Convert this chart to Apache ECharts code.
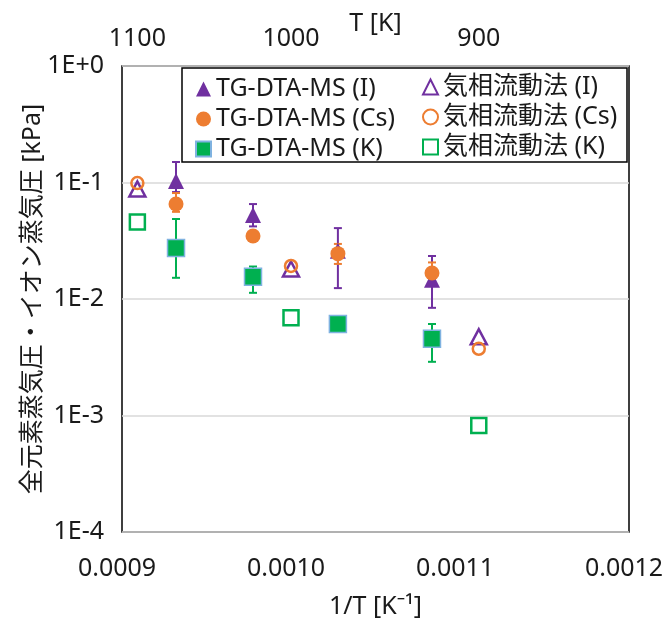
<!DOCTYPE html>
<html>
<head>
<meta charset="utf-8">
<script src="https://cdn.jsdelivr.net/npm/echarts@6/dist/echarts.min.js"></script>
<style>
  html, body { margin: 0; padding: 0; background: #fff; }
  #chart { width: 663px; height: 624px; }
</style>
</head>
<body>
<div id="chart"></div>
<script>
// TG-DTA-MS measurement temperatures [K]
const tgTemps = [1073, 1023, 973, 923]
const tgI = [0.103, 0.0526, 0.026, 0.0146]
const tgILow = [0.0828, 0.042, 0.0124, 0.0084]
const tgIHigh = [0.150, 0.0653, 0.0406, 0.0234]
const tgCs = [0.0653, 0.0347, 0.0245, 0.0167]
const tgCsLow = [0.056, 0.032, 0.020, 0.0132]
const tgCsHigh = [0.0812, 0.037, 0.0297, 0.0206]
const tgK = [0.0274, 0.0155, 0.0061, 0.00455]
const tgKLow = [0.0152, 0.0113, 0.0055, 0.00289]
const tgKHigh = [0.0486, 0.019, 0.0066, 0.0061]

// gas flow method (気相流動法)
const gasTemps = [1100, 1000, 900]
const gasI = [0.0879, 0.0181, 0.00474]
const gasCs = [0.0988, 0.0192, 0.00374]
const gasK = [0.0458, 0.0069, 0.00082]

// top axis T [K] ticks
const topTickTemps = [1100, 1000, 900]

const purple = '#7030A0'
const orange = '#ED7D31'
const green = '#00B050'
const ink = '#1a1a1a'
const font = '"Noto Sans", "Noto Sans CJK JP", sans-serif'
const fs = 25

const inv = t => 1 / t
const pts = (temps, vals) => temps.map((t, i) => [inv(t), vals[i]])
const errs = (temps, lo, hi) => temps.map((t, i) => [inv(t), lo[i], hi[i]])

function errorBar (color, data) {
  return {
    type: 'custom',
    xAxisIndex: 0,
    yAxisIndex: 0,
    z: 2,
    silent: true,
    encode: { x: 0, y: [1, 2] },
    data,
    renderItem (params, api) {
      const x = api.value(0)
      const pLo = api.coord([x, api.value(1)])
      const pHi = api.coord([x, api.value(2)])
      const hw = 4
      const style = { stroke: color, lineWidth: 2 }
      return {
        type: 'group',
        children: [
          { type: 'line', shape: { x1: pLo[0], y1: pLo[1], x2: pHi[0], y2: pHi[1] }, style },
          { type: 'line', shape: { x1: pLo[0] - hw, y1: pLo[1], x2: pLo[0] + hw, y2: pLo[1] }, style },
          { type: 'line', shape: { x1: pHi[0] - hw, y1: pHi[1], x2: pHi[0] + hw, y2: pHi[1] }, style }
        ]
      }
    }
  }
}

const legendText = { fontSize: fs, color: ink, fontFamily: font, lineHeight: 28 }

const chart = echarts.init(document.getElementById('chart'))
chart.setOption({
  animation: false,
  backgroundColor: '#fff',
  textStyle: { fontFamily: font },
  grid: {
    left: 122, right: 34, top: 66, bottom: 92,
    outerBoundsMode: 'none',
    containLabel: false,
    show: true, borderColor: '#000', borderWidth: 1.5
  },
  xAxis: [
    {
      type: 'value',
      position: 'bottom',
      min: 0.0009,
      max: 0.0012,
      interval: 0.0001,
      name: '1/T [K⁻¹]',
      nameLocation: 'middle',
      nameGap: 62,
      nameMoveOverlap: false,
      nameTextStyle: { fontSize: fs, color: ink, fontFamily: font },
      axisLine: { show: false },
      axisTick: { show: false },
      splitLine: { show: false },
      axisLabel: {
        fontSize: fs, color: ink, margin: 24, fontFamily: font,
        padding: [0, 10, 0, 0],
        formatter: v => v.toFixed(4)
      }
    },
    {
      type: 'value',
      position: 'top',
      min: 0.0009,
      max: 0.0012,
      name: 'T [K]',
      nameLocation: 'middle',
      nameGap: 30,
      nameMoveOverlap: false,
      nameTextStyle: { fontSize: fs, color: ink, fontFamily: font },
      axisLine: { show: false },
      axisTick: { show: false },
      splitLine: { show: false },
      axisLabel: {
        fontSize: fs, color: ink, margin: 15, fontFamily: font,
        customValues: topTickTemps.map(inv),
        formatter: v => String(Math.round(1 / v))
      }
    }
  ],
  yAxis: {
    type: 'log',
    logBase: 10,
    min: 1e-4,
    max: 1,
    name: '全元素蒸気圧・イオン蒸気圧 [kPa]',
    nameLocation: 'middle',
    nameGap: 77,
    nameMoveOverlap: false,
    nameTextStyle: { fontSize: fs, color: ink, fontFamily: font },
    axisLine: { show: false },
    axisTick: { show: false },
    splitLine: { show: true, lineStyle: { color: '#D9D9D9', width: 1.5 } },
    axisLabel: {
      fontSize: fs, color: ink, margin: 18, fontFamily: font,
      formatter: v => {
        const e = Math.round(Math.log10(v))
        return '1E' + (e >= 0 ? '+' : '') + e
      }
    }
  },
  legend: [
    {
      orient: 'vertical',
      left: 190,
      top: 70,
      itemGap: 2,
      itemWidth: 15,
      itemHeight: 15,
      textStyle: legendText,
      data: ['TG-DTA-MS (I)', 'TG-DTA-MS (Cs)', 'TG-DTA-MS (K)']
    },
    {
      orient: 'vertical',
      left: 417,
      top: 68,
      itemGap: 2,
      itemWidth: 15,
      itemHeight: 15,
      textStyle: legendText,
      data: ['気相流動法 (I)', '気相流動法 (Cs)', '気相流動法 (K)']
    }
  ],
  graphic: [
    {
      type: 'rect',
      z: 100,
      shape: { x: 182, y: 68, width: 445, height: 94 },
      style: { fill: 'none', stroke: '#000', lineWidth: 1.5 }
    }
  ],
  series: [
    errorBar(purple, errs(tgTemps, tgILow, tgIHigh)),
    errorBar(orange, errs(tgTemps, tgCsLow, tgCsHigh)),
    errorBar(green, errs(tgTemps, tgKLow, tgKHigh)),
    {
      name: 'TG-DTA-MS (I)',
      type: 'scatter',
      z: 3,
      symbol: 'triangle',
      symbolSize: [16, 16],
      itemStyle: { color: purple, opacity: 1 },
      data: pts(tgTemps, tgI)
    },
    {
      name: 'TG-DTA-MS (Cs)',
      type: 'scatter',
      z: 3,
      symbol: 'circle',
      symbolSize: 15,
      itemStyle: { color: orange, opacity: 1 },
      data: pts(tgTemps, tgCs)
    },
    {
      name: 'TG-DTA-MS (K)',
      type: 'scatter',
      z: 3,
      symbol: 'rect',
      symbolSize: 17,
      itemStyle: { color: green, borderColor: '#7FB2E0', borderWidth: 1.5, opacity: 1 },
      data: pts(tgTemps, tgK)
    },
    {
      name: '気相流動法 (I)',
      type: 'scatter',
      z: 3,
      symbol: 'triangle',
      symbolSize: [16, 15],
      itemStyle: { color: 'rgba(255,255,255,0)', borderColor: purple, borderWidth: 2.5, opacity: 1 },
      data: pts(gasTemps, gasI)
    },
    {
      name: '気相流動法 (Cs)',
      type: 'scatter',
      z: 3,
      symbol: 'circle',
      symbolSize: 12,
      itemStyle: { color: 'rgba(255,255,255,0)', borderColor: orange, borderWidth: 2.5, opacity: 1 },
      data: pts(gasTemps, gasCs)
    },
    {
      name: '気相流動法 (K)',
      type: 'scatter',
      z: 3,
      symbol: 'rect',
      symbolSize: 15,
      itemStyle: { color: 'rgba(255,255,255,0)', borderColor: green, borderWidth: 2.5, opacity: 1 },
      data: pts(gasTemps, gasK),
      markLine: {
        silent: true,
        symbol: 'none',
        z: 1,
        label: { show: false },
        lineStyle: { color: '#D9D9D9', width: 1.5, type: 'solid' },
        data: topTickTemps.map(t => ({ xAxis: inv(t) }))
      }
    }
  ]
})
</script>
</body>
</html>
